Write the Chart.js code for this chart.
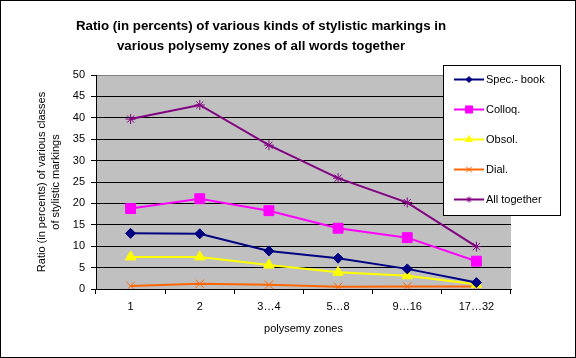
<!DOCTYPE html>
<html>
<head>
<meta charset="utf-8">
<script src="https://cdn.jsdelivr.net/npm/chart.js@4/dist/chart.umd.min.js"></script>
<style>
html,body{margin:0;padding:0;background:#fff;}
#wrap{width:576px;height:358px;position:relative;}
</style>
</head>
<body>
<div id="wrap"><canvas id="c" width="576" height="358"></canvas></div>
<script>
const titleLines = ['Ratio (in percents) of various kinds of stylistic markings in', 'various polysemy zones of all words together'];
const categories = ['1', '2', '3\u20264', '5\u20268', '9\u202616', '17\u202632'];
const yTicks = [0, 5, 10, 15, 20, 25, 30, 35, 40, 45, 50];
const xTitle = 'polysemy zones';
const yTitle = ['Ratio (in percents) of various classes', 'of stylistic markings'];

const seriesNames = ['Spec.- book', 'Colloq.', 'Obsol.', 'Dial.', 'All together'];
const specBook = [13.0, 12.9, 8.9, 7.2, 4.7, 1.5];
const colloq = [18.8, 21.1, 18.3, 14.2, 12.0, 6.5];
const obsol = [7.5, 7.5, 5.6, 3.9, 3.1, 1.1];
const dial = [0.7, 1.2, 1.0, 0.5, 0.6, 0.6];
const allTogether = [39.7, 43.0, 33.6, 25.9, 20.2, 9.9];

const colors = ['#000080', '#FF00FF', '#FFFF00', '#FF6600', '#800080'];
const styles = ['rectRot', 'rect', 'triangle', 'crossRot', 'star'];
const radii = [5, 7, 6, 6, 5];
const seriesData = [specBook, colloq, obsol, dial, allTogether];

const FONT = "'Liberation Sans', Arial, sans-serif";

const datasets = seriesNames.map((name, i) => ({
  label: name,
  data: seriesData[i],
  borderColor: colors[i],
  backgroundColor: colors[i],
  borderWidth: 2,
  pointStyle: styles[i],
  pointRadius: radii[i],
  pointHoverRadius: radii[i],
  pointBorderColor: colors[i],
  pointBackgroundColor: colors[i],
  pointBorderWidth: 1,
  tension: 0,
  fill: false
}));

const decor = {
  id: 'decor',
  beforeDraw(chart) {
    const {ctx, chartArea: a} = chart;
    ctx.save();
    ctx.fillStyle = '#fff';
    ctx.fillRect(0, 0, chart.width, chart.height);
    ctx.fillStyle = '#C0C0C0';
    ctx.fillRect(a.left, a.top, a.right - a.left, a.bottom - a.top);
    ctx.restore();
  },
  afterDraw(chart) {
    const {ctx} = chart;
    ctx.save();
    ctx.strokeStyle = '#000';
    ctx.lineWidth = 1;
    ctx.strokeRect(0.5, 0.5, chart.width - 1, chart.height - 1);
    ctx.fillStyle = '#000';
    ctx.font = 'bold 13.3px ' + FONT;
    ctx.textAlign = 'center';
    ctx.textBaseline = 'middle';
    ctx.fillText(titleLines[0], 261, 26);
    ctx.fillText(titleLines[1], 261, 46);
    const lx = 443, ly = 65, lw = 118, lh = 151;
    ctx.fillStyle = '#fff';
    ctx.fillRect(lx, ly, lw, lh);
    ctx.strokeStyle = '#000';
    ctx.strokeRect(lx + 0.5, ly + 0.5, lw - 1, lh - 1);
    ctx.font = '11px ' + FONT;
    ctx.textAlign = 'left';
    chart.data.datasets.forEach((ds, i) => {
      const y = 79 + i * 30;
      ctx.strokeStyle = ds.borderColor;
      ctx.lineWidth = 2;
      ctx.beginPath();
      ctx.moveTo(454, y + 0.5);
      ctx.lineTo(484, y + 0.5);
      ctx.stroke();
      if (Chart.helpers && Chart.helpers.drawPoint) {
        ctx.fillStyle = ds.pointBackgroundColor;
        ctx.strokeStyle = ds.pointBorderColor;
        ctx.lineWidth = 1;
        Chart.helpers.drawPoint(ctx, {pointStyle: ds.pointStyle, radius: Math.max(3, ds.pointRadius - 2), rotation: 0, borderWidth: 1}, 469, y + 0.5);
      }
      ctx.fillStyle = '#000';
      ctx.fillText(ds.label, 486, y + 1);
    });
    ctx.restore();
  }
};

new Chart(document.getElementById('c'), {
  type: 'line',
  data: {labels: categories, datasets},
  plugins: [decor],
  options: {
    responsive: false,
    animation: false,
    devicePixelRatio: 1,
    layout: {padding: {top: 75, right: 65, left: 0, bottom: 0}},
    plugins: {legend: {display: false}, title: {display: false}, tooltip: {enabled: false}},
    scales: {
      x: {
        offset: true,
        afterFit(s) { s.height = 69; },
        grid: {
          offset: true,
          drawOnChartArea: false,
          drawTicks: true,
          tickLength: 5,
          color: '#000',
          tickColor: '#000'
        },
        border: {display: true, color: '#000', width: 1},
        ticks: {color: '#000', font: {family: FONT, size: 11}, padding: 6, maxRotation: 0, autoSkip: false},
        title: {display: true, text: xTitle, color: '#000', font: {family: FONT, size: 11}, padding: {top: 0, bottom: 22}}
      },
      y: {
        min: 0,
        max: 50,
        afterFit(s) { s.width = 96; },
        afterBuildTicks(s) { s.ticks = yTicks.map(v => ({value: v})); },
        grid: {
          drawOnChartArea: true,
          drawTicks: true,
          tickLength: 5,
          color: (c) => (c.tick && c.tick.value === 50) ? '#808080' : '#000',
          tickColor: '#000'
        },
        border: {display: true, color: '#000', width: 1},
        ticks: {color: '#000', font: {family: FONT, size: 11}, padding: 6},
        title: {display: true, text: yTitle, color: '#000', font: {family: FONT, size: 11, lineHeight: 1.3}, padding: {top: 35, bottom: 0}}
      }
    }
  }
});
</script>
</body>
</html>
